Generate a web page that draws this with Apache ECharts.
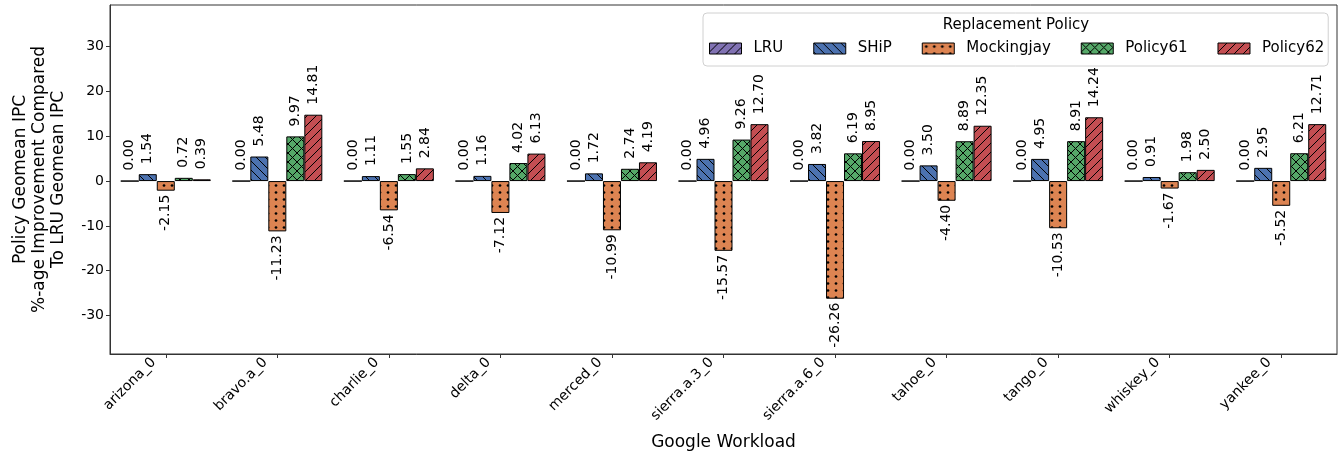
<!DOCTYPE html>
<html>
<head>
<meta charset="utf-8">
<script src="https://cdn.jsdelivr.net/npm/echarts@6/dist/echarts.min.js"></script>
<style>
  html, body { margin: 0; padding: 0; background: #fff; }
  #chart { width: 1338px; height: 456px; }
</style>
</head>
<body>
<div id="chart"></div>
<script>
// Workloads on the x axis
const workloads = ['arizona_0', 'bravo.a_0', 'charlie_0', 'delta_0', 'merced_0',
  'sierra.a.3_0', 'sierra.a.6_0', 'tahoe_0', 'tango_0', 'whiskey_0', 'yankee_0'];

// % IPC improvement over LRU, one array per replacement policy
const policyNames = ['LRU', 'SHiP', 'Mockingjay', 'Policy61', 'Policy62'];
const lru        = [0, 0, 0, 0, 0, 0, 0, 0, 0, 0, 0];
const ship       = [1.54, 5.48, 1.11, 1.16, 1.72, 4.96, 3.82, 3.50, 4.95, 0.91, 2.95];
const mockingjay = [-2.15, -11.23, -6.54, -7.12, -10.99, -15.57, -26.26, -4.40, -10.53, -1.67, -5.52];
const policy61   = [0.72, 9.97, 1.55, 4.02, 2.74, 9.26, 6.19, 8.89, 8.91, 1.98, 6.21];
const policy62   = [0.39, 14.81, 2.84, 6.13, 4.19, 12.70, 8.95, 12.35, 14.24, 2.50, 12.71];

// Y tick values
const yTicks = [-30, -20, -10, 0, 10, 20, 30];

const FONT = 'DejaVu Sans';

// Build a repeating hatch tile on an offscreen canvas
function hatch(bg, kind) {
  const w = kind === 'dots' ? 8 : 9;
  const h = kind === 'dots' ? 7 : 9;
  const c = document.createElement('canvas');
  c.width = w; c.height = h;
  const g = c.getContext('2d');
  g.fillStyle = bg;
  g.fillRect(0, 0, w, h);
  g.strokeStyle = '#000';
  g.fillStyle = '#000';
  g.lineWidth = 1;
  if (kind === 'fwd' || kind === 'cross') {
    g.beginPath();
    for (const k of [-w, 0, w]) { g.moveTo(k, h); g.lineTo(k + w, 0); }
    g.stroke();
  }
  if (kind === 'back' || kind === 'cross') {
    g.beginPath();
    for (const k of [-w, 0, w]) { g.moveTo(k, 0); g.lineTo(k + w, h); }
    g.stroke();
  }
  if (kind === 'dots') {
    g.beginPath();
    g.arc(4, 3.5, 1.35, 0, Math.PI * 2);
    g.fill();
  }
  return { image: c, repeat: 'repeat' };
}

const styles = [
  { color: '#8172B3', kind: 'fwd' },
  { color: '#4C72B0', kind: 'back' },
  { color: '#DD8452', kind: 'dots' },
  { color: '#55A868', kind: 'cross' },
  { color: '#C44E52', kind: 'fwd' }
];
const seriesValues = [lru, ship, mockingjay, policy61, policy62];

const baseLabel = {
  show: true,
  rotate: 90,
  fontSize: 14,
  fontFamily: FONT,
  color: '#000',
  verticalAlign: 'middle',
  formatter: p => Number(p.value).toFixed(2)
};
const posLabel = Object.assign({}, baseLabel, { position: 'top', align: 'left', distance: 10 });
const negLabel = Object.assign({}, baseLabel, { position: 'bottom', align: 'right', distance: 4 });

const series = policyNames.map((name, i) => ({
  name,
  type: 'bar',
  barWidth: 18,
  barGap: '0%',
  itemStyle: {
    color: hatch(styles[i].color, styles[i].kind),
    borderColor: '#000',
    borderWidth: 1
  },
  label: posLabel,
  data: seriesValues[i].map(v => ({ value: v, label: v < 0 ? negLabel : posLabel }))
}));

const chart = echarts.init(document.getElementById('chart'), null, { renderer: 'canvas' });
chart.setOption({
  animation: false,
  textStyle: { fontFamily: FONT },
  grid: {
    left: 110, right: 1, top: 5, bottom: 102,
    show: true, borderColor: '#333', borderWidth: 1, backgroundColor: 'transparent'
  },
  legend: {
    data: policyNames.map(n => ({ name: n, icon: 'rect' })),
    left: 703, top: 13,
    padding: [28, 4, 10, 6],
    itemWidth: 32, itemHeight: 11,
    itemGap: 30,
    backgroundColor: '#fff',
    borderColor: '#d0d0d0', borderWidth: 1, borderRadius: 4,
    itemStyle: { borderColor: '#000', borderWidth: 1 },
    textStyle: { fontSize: 15, fontFamily: FONT, color: '#000', padding: [0, 0, 0, 7] },
    z: 5
  },
  graphic: [{
    type: 'text',
    x: 1016, y: 25,
    z: 100,
    style: {
      text: 'Replacement Policy',
      fontSize: 15, fontFamily: FONT, fill: '#000',
      textAlign: 'center', textVerticalAlign: 'middle'
    }
  }],
  xAxis: {
    type: 'category',
    data: workloads,
    name: 'Google Workload',
    nameLocation: 'middle',
    nameGap: 80,
    nameTextStyle: { fontSize: 17, fontFamily: FONT, color: '#000' },
    axisLine: { show: true, onZero: false, lineStyle: { color: '#333', width: 1 } },
    axisTick: { show: true, alignWithLabel: true, length: 4, lineStyle: { color: '#333' } },
    axisLabel: {
      rotate: 45, fontSize: 14, fontFamily: FONT, color: '#000', margin: 4, interval: 0,
      verticalAlign: 'bottom', padding: [0, 10, 0, 0]
    },
    splitLine: { show: false }
  },
  yAxis: {
    type: 'value',
    min: -38.6, max: 39.3,
    name: 'Policy Geomean IPC\n%-age Improvement Compared\nTo LRU Geomean IPC',
    nameLocation: 'middle',
    nameRotate: 90,
    nameGap: 42,
    nameTextStyle: { fontSize: 17, fontFamily: FONT, color: '#000', lineHeight: 19, align: 'center' },
    axisLine: { show: true, lineStyle: { color: '#333', width: 1 } },
    axisTick: { show: true, length: 4, customValues: yTicks, lineStyle: { color: '#333' } },
    axisLabel: { fontSize: 14, fontFamily: FONT, color: '#000', margin: 6, customValues: yTicks },
    splitLine: { show: false }
  },
  series
});
</script>
</body>
</html>
